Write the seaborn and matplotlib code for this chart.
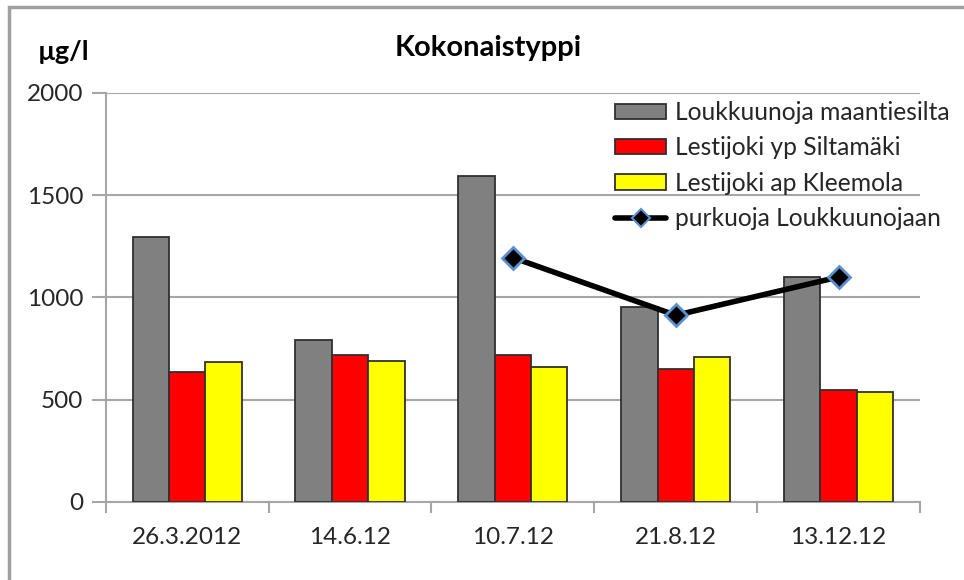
import matplotlib
matplotlib.use("Agg")
import matplotlib.pyplot as plt
import seaborn as sns
import pandas as pd
from matplotlib.patches import Patch, Rectangle
from matplotlib.lines import Line2D

dates = ["26.3.2012", "14.6.12", "10.7.12", "21.8.12", "13.12.12"]
series_names = ["Loukkuunoja maantiesilta", "Lestijoki yp Siltamäki", "Lestijoki ap Kleemola"]
loukkuunoja = [1295, 790, 1595, 955, 1100]
lestijoki_yp = [635, 720, 720, 650, 550]
lestijoki_ap = [683, 690, 658, 707, 540]
line_name = "purkuoja Loukkuunojaan"
line_dates = ["10.7.12", "21.8.12", "13.12.12"]
purkuoja = [1195, 913, 1100]
colors = ["#808080", "#FF0000", "#FFFF00"]
yticks = [0, 500, 1000, 1500, 2000]

sns.set_theme(style="white")
plt.rcParams["font.family"] = ["Lato", "DejaVu Sans"]

rows = []
for name, vals in zip(series_names, [loukkuunoja, lestijoki_yp, lestijoki_ap]):
    for d, v in zip(dates, vals):
        rows.append({"date": d, "series": name, "value": v})
df = pd.DataFrame(rows)

fig = plt.figure(figsize=(9.64, 5.8), dpi=100)
ax = fig.add_axes([0.1097, 0.1345, 0.8447, 0.7052])

sns.barplot(data=df, x="date", y="value", hue="series", order=dates,
            hue_order=series_names, palette=colors, saturation=1, width=0.67,
            edgecolor="#303030", linewidth=1.3, ax=ax, legend=False, zorder=3)

line_df = pd.DataFrame({"x": [dates.index(d) for d in line_dates], "y": purkuoja})
ax.plot(line_df["x"], line_df["y"], color="black", lw=4, zorder=5,
        marker="D", markersize=11, markerfacecolor="black",
        markeredgecolor="#5B8FD0", markeredgewidth=2)

ax.set_xlim(-0.5, len(dates) - 0.5)
ax.set_ylim(0, 2000)
ax.set_yticks(yticks)
ax.yaxis.grid(True, color="#A6A6A6", lw=1.5, zorder=0)
ax.set_axisbelow(True)
ax.set_xlabel("")
ax.set_ylabel("")
for s in ["top", "right"]:
    ax.spines[s].set_visible(False)
for s in ["left", "bottom"]:
    ax.spines[s].set_color("#A6A6A6")
    ax.spines[s].set_linewidth(1.5)

ax.tick_params(axis="y", which="major", left=True, length=10, width=1.5,
               color="#A6A6A6", labelsize=17.5, pad=6, labelcolor="#262626")
ax.tick_params(axis="x", which="major", length=0, labelsize=17.5, pad=18,
               labelcolor="#262626")
ax.set_xticks([i - 0.5 for i in range(len(dates) + 1)], minor=True)
ax.tick_params(axis="x", which="minor", bottom=True, length=8, width=1.5,
               color="#A6A6A6")

fig.text(0.506, 0.917, "Kokonaistyppi", ha="center", va="center",
         fontsize=21, fontweight="bold", color="black")
fig.text(0.066, 0.91, "µg/l", ha="center", va="center",
         fontsize=19.5, fontweight="bold", color="black")

handles = [Patch(facecolor=c, edgecolor="#303030", linewidth=1.3) for c in colors]
handles.append(Line2D([0], [0], color="black", lw=4, marker="D", markersize=9,
                      markerfacecolor="black", markeredgecolor="#5B8FD0",
                      markeredgewidth=1.5))
leg = fig.legend(handles, series_names + [line_name], loc="upper left",
                 bbox_to_anchor=(0.625, 0.847), frameon=False, fontsize=17.7,
                 handlelength=2.1, handleheight=0.6, handletextpad=0.35,
                 labelspacing=0.5, borderpad=0)
for t in leg.get_texts():
    t.set_color("#262626")

# outer chart border
fig.patches.append(Rectangle((0.009, -0.1), 1.2, 1.088, transform=fig.transFigure,
                             fill=False, edgecolor="#A0A0A0", lw=2.5))

fig.savefig("out.png", dpi=100)
